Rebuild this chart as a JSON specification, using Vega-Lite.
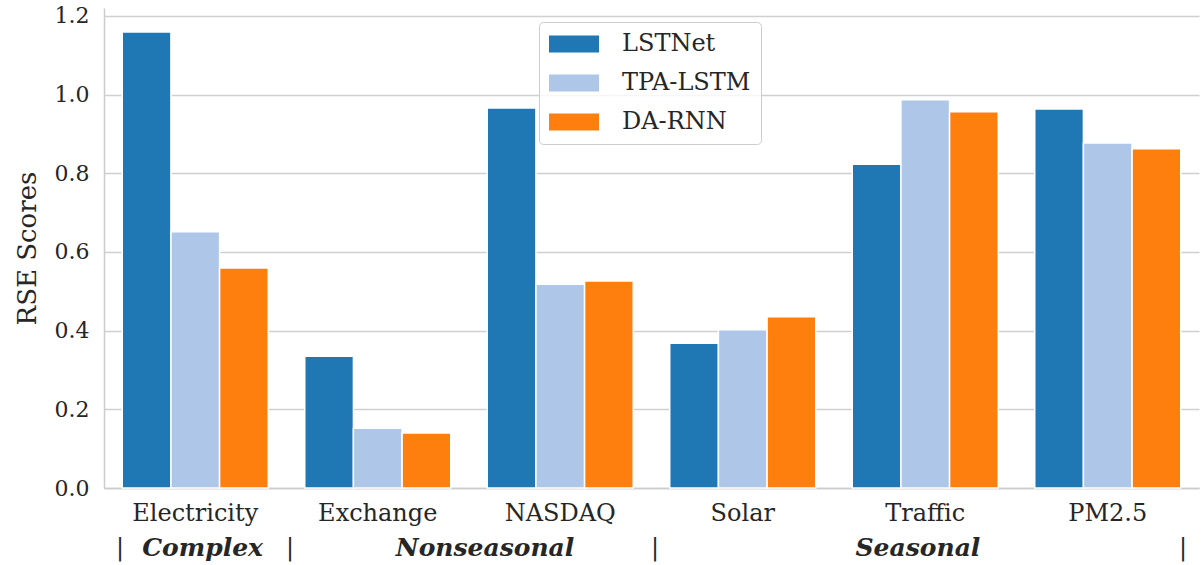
{
  "$schema": "https://vega.github.io/schema/vega-lite/v6.json",
  "width": 1095,
  "height": 480,
  "autosize": {"type": "none"},
  "padding": {"left": 104, "top": 8, "right": 4, "bottom": 77},
  "background": "white",
  "config": {
    "font": "DejaVu Serif",
    "view": {"stroke": null},
    "axis": {"labelColor": "#262626", "titleColor": "#262626", "labelFont": "DejaVu Serif", "titleFont": "DejaVu Serif"}
  },
  "datasets": {
    "scores": [
      {"dataset": "Electricity", "model": "LSTNet", "rse": 1.159},
      {"dataset": "Electricity", "model": "TPA-LSTM", "rse": 0.651},
      {"dataset": "Electricity", "model": "DA-RNN", "rse": 0.559},
      {"dataset": "Exchange", "model": "LSTNet", "rse": 0.335},
      {"dataset": "Exchange", "model": "TPA-LSTM", "rse": 0.152},
      {"dataset": "Exchange", "model": "DA-RNN", "rse": 0.140},
      {"dataset": "NASDAQ", "model": "LSTNet", "rse": 0.966},
      {"dataset": "NASDAQ", "model": "TPA-LSTM", "rse": 0.518},
      {"dataset": "NASDAQ", "model": "DA-RNN", "rse": 0.526},
      {"dataset": "Solar", "model": "LSTNet", "rse": 0.368},
      {"dataset": "Solar", "model": "TPA-LSTM", "rse": 0.402},
      {"dataset": "Solar", "model": "DA-RNN", "rse": 0.435},
      {"dataset": "Traffic", "model": "LSTNet", "rse": 0.823},
      {"dataset": "Traffic", "model": "TPA-LSTM", "rse": 0.987},
      {"dataset": "Traffic", "model": "DA-RNN", "rse": 0.956},
      {"dataset": "PM2.5", "model": "LSTNet", "rse": 0.963},
      {"dataset": "PM2.5", "model": "TPA-LSTM", "rse": 0.877},
      {"dataset": "PM2.5", "model": "DA-RNN", "rse": 0.862}
    ],
    "pipes": [
      {"pos": 0.088, "label": "|"},
      {"pos": 1.02, "label": "|"},
      {"pos": 3.019, "label": "|"},
      {"pos": 5.912, "label": "|"}
    ],
    "groups": [
      {"pos": 0.54, "label": "Complex"},
      {"pos": 2.088, "label": "Nonseasonal"},
      {"pos": 4.46, "label": "Seasonal"}
    ]
  },
  "layer": [
    {
      "data": {"name": "scores"},
      "mark": {"type": "bar", "stroke": "white", "strokeWidth": 1.5},
      "encoding": {
        "x": {
          "field": "dataset", "type": "nominal",
          "sort": ["Electricity", "Exchange", "NASDAQ", "Solar", "Traffic", "PM2.5"],
          "scale": {"paddingInner": 0.2, "paddingOuter": 0.1},
          "axis": {"title": null, "labelAngle": 0, "labelFontSize": 24, "labelPadding": 13, "ticks": false, "domain": true, "domainColor": "#cccccc", "domainWidth": 1.5, "grid": false}
        },
        "xOffset": {
          "field": "model", "type": "nominal",
          "sort": ["LSTNet", "TPA-LSTM", "DA-RNN"],
          "scale": {"paddingInner": 0, "paddingOuter": 0}
        },
        "y": {
          "field": "rse", "type": "quantitative",
          "scale": {"domain": [0, 1.22], "nice": false},
          "axis": {"title": "RSE Scores", "titleFontSize": 26, "titleFontWeight": "normal", "titlePadding": 14, "labelFontSize": 22, "labelPadding": 15, "ticks": false, "domain": true, "domainColor": "#cccccc", "domainWidth": 1.5, "gridColor": "#d0d0d0", "gridWidth": 1.3, "values": [0, 0.2, 0.4, 0.6, 0.8, 1.0, 1.2], "format": ".1f"}
        },
        "color": {
          "field": "model", "type": "nominal",
          "sort": ["LSTNet", "TPA-LSTM", "DA-RNN"],
          "scale": {"domain": ["LSTNet", "TPA-LSTM", "DA-RNN"], "range": ["#1f77b4", "#aec7e8", "#ff7f0e"]},
          "legend": {
            "title": null, "orient": "none", "legendX": 435, "legendY": 14,
            "symbolType": "M-2.5,-0.85H2.5V0.85H-2.5Z", "symbolSize": 400, "symbolStrokeWidth": 0, "symbolOffset": 13,
            "labelFontSize": 24, "labelFont": "DejaVu Serif", "labelColor": "#262626", "labelOffset": 36,
            "padding": 10, "rowPadding": 15,
            "fillColor": "rgba(255,255,255,0.8)", "strokeColor": "#cccccc", "cornerRadius": 4
          }
        }
      }
    },
    {
      "data": {"name": "pipes"},
      "mark": {"type": "text", "fontSize": 24, "font": "DejaVu Serif", "color": "#262626", "dy": 60, "baseline": "middle", "align": "center"},
      "encoding": {
        "x": {"field": "pos", "type": "quantitative", "scale": {"domain": [0, 6], "nice": false}, "axis": null},
        "y": {"datum": 0},
        "text": {"field": "label"}
      }
    },
    {
      "data": {"name": "groups"},
      "mark": {"type": "text", "fontSize": 25, "font": "DejaVu Serif", "fontWeight": "bold", "fontStyle": "italic", "color": "#262626", "dy": 60, "baseline": "middle", "align": "center"},
      "encoding": {
        "x": {"field": "pos", "type": "quantitative", "scale": {"domain": [0, 6], "nice": false}, "axis": null},
        "y": {"datum": 0},
        "text": {"field": "label"}
      }
    }
  ],
  "resolve": {"scale": {"x": "independent"}}
}
